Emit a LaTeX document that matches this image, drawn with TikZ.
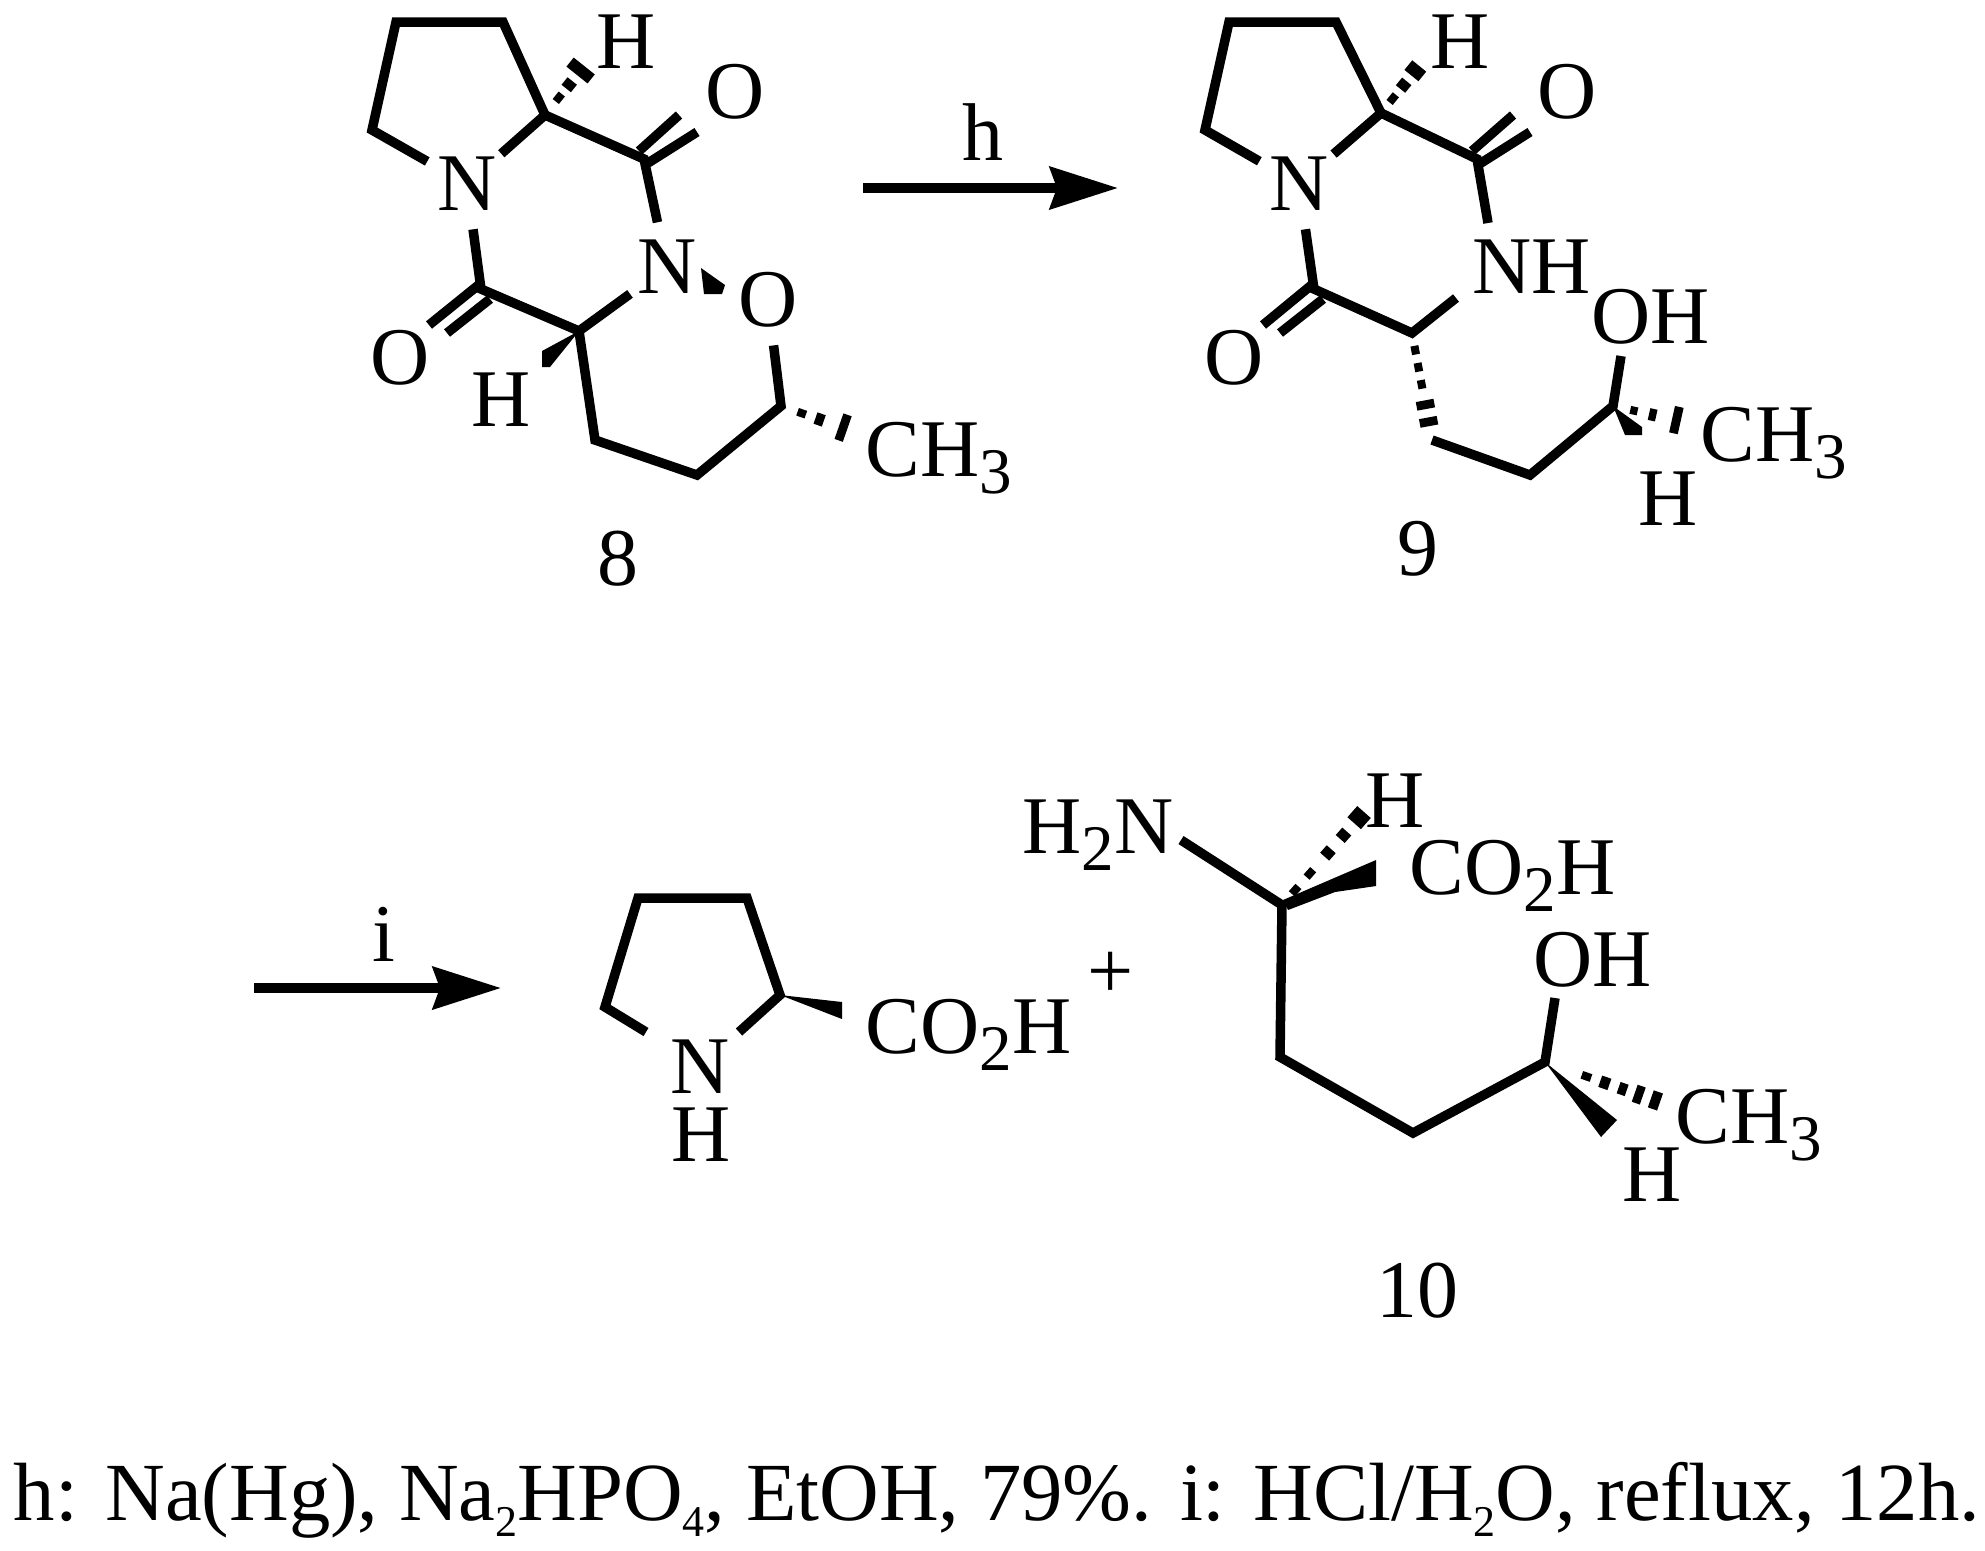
\documentclass[tikz,border=0pt]{standalone}
\usepackage{fontspec}
\setmainfont{Liberation Serif}
\usepackage{tikz}
\usetikzlibrary{arrows.meta,calc}
\newcommand{\lowsub}[1]{\raisebox{-0.17cm}{\fontsize{18.5pt}{20pt}\selectfont #1}}
\newcommand{\tinysub}[1]{\raisebox{-0.16cm}{\fontsize{12.5pt}{14pt}\selectfont #1}}

\begin{document}
\begin{tikzpicture}[x=0.01cm,y=-0.01cm,
    every node/.style={font=\fontsize{23.3pt}{26pt}\selectfont,inner sep=0pt},
    bond/.style={line width=0.095cm},
    wedge/.style={fill=black},
    atom/.style={circle,minimum size=0.9cm},
    chem/.style={anchor=base west},
    rxn/.style={line width=0.095cm,-{Stealth[length=0.68cm,width=0.42cm,inset=0.07cm]}},
    hasha/.style={line width=0.08cm},
    hashb/.style={line width=0.12cm},
    hashc/.style={line width=0.18cm},
    hashd/.style={line width=0.27cm}]
    \useasboundingbox (0,0) rectangle (1985,1550);

    % 8
    \coordinate (a1) at (396,22);
    \coordinate (a2) at (503,22);
    \coordinate (a3) at (545,115);
    \coordinate (a4) at (372,130);
    \coordinate (a5) at (644,159);
    \coordinate (a6) at (481,289);
    \coordinate (a7) at (579,331);
    \coordinate (a8) at (595,440);
    \coordinate (a9) at (697,475);
    \coordinate (a10) at (781,406);
    \coordinate (a11) at (585,65);
    \coordinate (a12) at (850,430);
    \node[atom] (na) at (467,184) {N};
    \node[atom] (nb) at (667,267) {N};
    \node[atom] (oa) at (768,300) {O};
    \node[atom] (ob) at (735,92) {O};
    \node[atom] (oc) at (400,358) {O};
    \node (ha) at (626,42) {H};
    \node (hb) at (501,400) {H};
    \node[chem] (ma) at (865,476) {CH\lowsub{3}};
    \node (la) at (618,559) {8};
    \draw[bond] (na) -- (a4) -- (a1) -- (a2) -- (a3) -- (na);
    \draw[bond] (a3) -- (a5) -- (nb);
    \draw[bond] (na) -- (a6) -- (a7) -- (nb);
    \draw[bond] (a7) -- (a8) -- (a9) -- (a10) -- (oa);
    \coordinate (da1) at (639,151); \coordinate (da2) at (679,115);
    \coordinate (da3) at (648,163); \coordinate (da4) at (697,132);
    \coordinate (da5) at (481,283); \coordinate (da6) at (429,325);
    \coordinate (da7) at (490,299); \coordinate (da8) at (447,333);
    \draw[bond] (da1) -- (da2);
    \draw[bond] (da3) -- (da4);
    \draw[bond] (da5) -- (da6);
    \draw[bond] (da7) -- (da8);
    \draw[hasha] ($(a3)!.27!(a11)$) -- ($(a3)!.42!(a11)$);
    \draw[hashb] ($(a3)!.53!(a11)$) -- ($(a3)!.68!(a11)$);
    \draw[hashd] ($(a3)!.80!(a11)$) -- ($(a3)!.98!(a11)$);
    \draw[hasha] ($(a10)!.24!(a12)$) -- ($(a10)!.36!(a12)$);
    \draw[hashb] ($(a10)!.50!(a12)$) -- ($(a10)!.62!(a12)$);
    \draw[hashd] ($(a10)!.84!(a12)$) -- ($(a10)!.96!(a12)$);
    \fill[wedge] (a7) -- (542,351) -- (542,367) -- (550,367) -- cycle;
    \fill[wedge] (701,268) -- (725,285) -- (722,294) -- (704,294) -- cycle;

    % arrow h
    \coordinate (sa) at (863,188);
    \coordinate (ea) at (1118,188);
    \draw[rxn] (sa) -- (ea);
    \node[anchor=base] (ra) at (983,160) {h};

    % 9
    \coordinate (b1) at (1229,22);
    \coordinate (b2) at (1336,22);
    \coordinate (b3) at (1381,113);
    \coordinate (b4) at (1205,130);
    \coordinate (b5) at (1477,159);
    \coordinate (b6) at (1314,289);
    \coordinate (b7) at (1412,333);
    \coordinate (b8) at (1432,440);
    \coordinate (b9) at (1530,475);
    \coordinate (b10) at (1613,406);
    \coordinate (b11) at (1420,65);
    \coordinate (b12) at (1685,422);
    \coordinate (b13) at (1456,298);
    \coordinate (b14) at (1488,223);
    \coordinate (b15) at (1621,356);
    \node[atom] (nc) at (1299,184) {N};
    \node[chem] (nd) at (1472,293) {NH};
    \node[chem] (od) at (1591,343) {OH};
    \node[atom] (oe) at (1567,92) {O};
    \node[atom] (of) at (1234,358) {O};
    \node (hc) at (1460,42) {H};
    \node (hd) at (1668,499) {H};
    \node[chem] (mb) at (1700,461) {CH\lowsub{3}};
    \node (lb) at (1418,549) {9};
    \draw[bond] (nc) -- (b4) -- (b1) -- (b2) -- (b3) -- (nc);
    \draw[bond] (b3) -- (b5) -- (b14);
    \draw[bond] (nc) -- (b6) -- (b7) -- (b13);
    \draw[bond] (b8) -- (b9) -- (b10) -- (b15);
    \coordinate (db1) at (1472,151); \coordinate (db2) at (1513,115);
    \coordinate (db3) at (1481,163); \coordinate (db4) at (1530,132);
    \coordinate (db5) at (1314,283); \coordinate (db6) at (1263,325);
    \coordinate (db7) at (1323,299); \coordinate (db8) at (1280,333);
    \draw[bond] (db1) -- (db2);
    \draw[bond] (db3) -- (db4);
    \draw[bond] (db5) -- (db6);
    \draw[bond] (db7) -- (db8);
    \draw[hasha] ($(b3)!.22!(b11)$) -- ($(b3)!.38!(b11)$);
    \draw[hashb] ($(b3)!.50!(b11)$) -- ($(b3)!.66!(b11)$);
    \draw[hashc] ($(b3)!.78!(b11)$) -- ($(b3)!.98!(b11)$);
    \draw[hasha] ($(b7)!.12!(b8)$) -- ($(b7)!.20!(b8)$);
    \draw[hasha] ($(b7)!.28!(b8)$) -- ($(b7)!.36!(b8)$);
    \draw[hasha] ($(b7)!.44!(b8)$) -- ($(b7)!.52!(b8)$);
    \draw[hashc] ($(b7)!.63!(b8)$) -- ($(b7)!.71!(b8)$);
    \draw[hashc] ($(b7)!.79!(b8)$) -- ($(b7)!.87!(b8)$);
    \draw[hasha] ($(b10)!.24!(b12)$) -- ($(b10)!.34!(b12)$);
    \draw[hashb] ($(b10)!.50!(b12)$) -- ($(b10)!.60!(b12)$);
    \draw[hashd] ($(b10)!.82!(b12)$) -- ($(b10)!.94!(b12)$);
    \fill[wedge] (b10) -- (1642,427) -- (1642,435) -- (1625,435) -- cycle;

    % arrow i
    \coordinate (sb) at (254,988);
    \coordinate (eb) at (501,988);
    \draw[rxn] (sb) -- (eb);
    \node[anchor=base] (rb) at (384,961) {i};

    % proline
    \coordinate (p1) at (638,898);
    \coordinate (p2) at (747,898);
    \coordinate (p3) at (780,995);
    \coordinate (p4) at (605,1007);
    \coordinate (p5) at (646,1032);
    \coordinate (p6) at (739,1032);
    \node (ne) at (700,1067) {N};
    \node (he) at (701,1135) {H};
    \node[chem] (ca) at (865,1053) {CO\lowsub{2}H};
    \draw[bond] (p5) -- (p4) -- (p1) -- (p2) -- (p3) -- (p6);
    \fill[wedge] (p3) -- (842,1002) -- (842,1019) -- cycle;
    \node (pl) at (1111,975) {+};

    % 10
    \coordinate (d1) at (1282,905);
    \coordinate (d2) at (1280,1057);
    \coordinate (d3) at (1413,1133);
    \coordinate (d4) at (1545,1062);
    \coordinate (d5) at (1181,840);
    \coordinate (d6) at (1555,998);
    \coordinate (d7) at (1364,812);
    \coordinate (d8) at (1660,1102);
    \node[chem] (nf) at (1022,853) {H\lowsub{2}N};
    \node (hf) at (1395,801) {H};
    \node[chem] (cb) at (1409,894) {CO\lowsub{2}H};
    \node[chem] (og) at (1533,986) {OH};
    \node[chem] (mc) at (1675,1143) {CH\lowsub{3}};
    \node (hg) at (1652,1175) {H};
    \node (lc) at (1417,1291) {10};
    \draw[bond] (d5) -- (d1) -- (d2) -- (d3) -- (d4) -- (d6);
    \draw[hasha] ($(d1)!.12!(d7)$) -- ($(d1)!.20!(d7)$);
    \draw[hasha] ($(d1)!.30!(d7)$) -- ($(d1)!.38!(d7)$);
    \draw[hashb] ($(d1)!.52!(d7)$) -- ($(d1)!.60!(d7)$);
    \draw[hashb] ($(d1)!.71!(d7)$) -- ($(d1)!.79!(d7)$);
    \draw[hashc] ($(d1)!.88!(d7)$) -- ($(d1)!1!(d7)$);
    \draw[hasha] ($(d4)!.32!(d8)$) -- ($(d4)!.40!(d8)$);
    \draw[hashb] ($(d4)!.48!(d8)$) -- ($(d4)!.56!(d8)$);
    \draw[hashb] ($(d4)!.64!(d8)$) -- ($(d4)!.71!(d8)$);
    \draw[hashc] ($(d4)!.78!(d8)$) -- ($(d4)!.85!(d8)$);
    \draw[hashc] ($(d4)!.92!(d8)$) -- ($(d4)!1!(d8)$);
    \fill[wedge] (1283,900) -- (1376,860) -- (1376,886) -- (1335,892) -- (1288,910) -- cycle;
    \fill[wedge] (d4) -- (1617,1120) -- (1601,1137) -- cycle;

    \node[chem,font=\fontsize{23.5pt}{26pt}\selectfont] (ft) at (13,1520) {h: Na(Hg), Na\tinysub{2}HPO\tinysub{4}, EtOH, 79\%. i: HCl/H\tinysub{2}O, reflux, 12h.};
\end{tikzpicture}
\end{document}
